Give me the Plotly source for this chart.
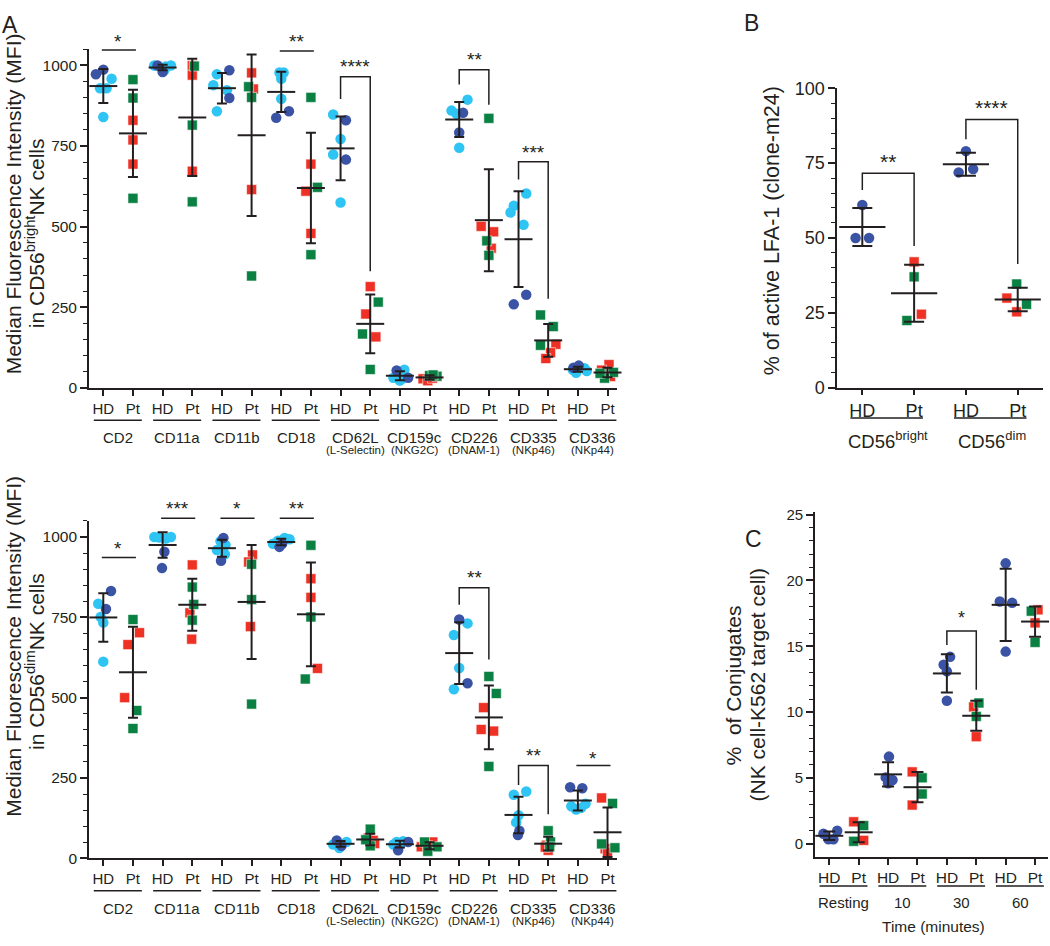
import numpy as np
import plotly.graph_objects as go

W, H = 1050, 946
INK = "#231F20"
FONT = "Liberation Sans, Arial, Helvetica, sans-serif"
DARK = "#3A53A4"
LIGHT = "#2EC4F3"
RED = "#EE3124"
GREEN = "#0B8043"

# ---------------- DATA ----------------
markers = ["CD2", "CD11a", "CD11b", "CD18", "CD62L", "CD159c", "CD226", "CD335", "CD336"]
marker_sub = ["", "", "", "", "(L-Selectin)", "(NKG2C)", "(DNAM-1)", "(NKp46)", "(NKp44)"]
donor_labels = ["HD", "Pt"]

# MFI in CD56bright NK cells
bright_hd_dark = [[973, 987], [1000, 980], [985, 899], [858, 838], [830, 708], [54, 31], [853, 792], [289, 259], [69, 62]]
bright_hd_light = [[959, 929, 929, 840], [1000, 997, 1000, 985], [973, 939, 923, 858], [978, 978, 959, 897],
                   [848, 772, 724, 575], [56, 31, 23, 30], [894, 860, 850, 745], [603, 565, 544, 506], [56, 47, 61, 52]]
bright_pt_red = [[830, 769, 694], [1000, 970, 672], [977, 927, 615], [694, 610, 479], [314, 229, 158],
                 [28, 22, 30], [501, 484, 433], [135, 109, 91], [72, 55, 35]]
bright_pt_green = [[956, 899, 588], [998, 815, 577], [934, 901, 347], [901, 622, 413], [266, 167, 57],
                   [38, 36, 40], [836, 456, 411], [226, 190, 132], [48, 30, 45]]

# MFI in CD56dim NK cells
dim_hd_dark = [[832, 776], [954, 903], [997, 926], [969, 979], [56, 39], [51, 25], [743, 545], [86, 73], [221, 218]]
dim_hd_light = [[792, 751, 734, 612], [1000, 998, 995, 1000], [987, 959, 946, 975], [979, 988, 993, 997],
                [51, 51, 43, 32], [43, 53, 41, 51], [731, 695, 592, 526], [208, 198, 134, 112], [162, 152, 157, 170]]
dim_pt_red = [[702, 665, 500], [913, 764, 682], [944, 922, 721], [870, 812, 591], [63, 56, 46],
              [36, 51, 39], [469, 401, 396], [41, 25, 35], [188, 30, 20]]
dim_pt_green = [[743, 460, 404], [844, 790, 741], [915, 805, 480], [974, 751, 558], [91, 39, 58],
                [51, 36, 22], [566, 513, 286], [86, 51, 36], [171, 33, 45]]

# % active LFA-1
lfa_groups = ["CD56<sup>bright</sup>", "CD56<sup>dim</sup>"]
lfa_hd = [[61, 50, 50], [79, 71.9, 73]]
lfa_pt_red = [[42, 24.5], [29.9, 25.3]]
lfa_pt_green = [[37, 22.4], [34.6, 27.8]]

# % conjugates
conj_groups = ["Resting", "10", "30", "60"]
conj_hd = [[0.77, 1.0, 0.35, 0.35], [6.63, 5.05, 4.85, 4.6], [14.2, 13.6, 13.1, 10.87], [21.3, 18.4, 18.3, 14.6]]
conj_pt_red = [[1.68, 0.27], [5.47, 2.95], [10.4, 8.14], [17.77, 16.78]]
conj_pt_green = [[1.39, 0.2], [5.02, 3.79], [10.7, 9.68], [17.67, 15.3]]

# ---------------- POINT SCATTER (horizontal jitter, slot units) ----------------
bright_hd_dark_jit = [[-0.25, 0], [-0.17, 0], [0.25, 0.25], [0.26, -0.17], [0.18, 0.18], [-0.11, 0.28], [0.13, 0], [0.26, -0.16], [0.03, -0.15]]
bright_hd_light_jit = [[0.28, -0.11, 0.11, 0], [-0.28, 0.11, 0.28, 0.06], [-0.17, -0.29, 0.17, -0.17], [-0.06, 0.08, 0, 0],
                       [-0.25, 0, -0.25, 0], [0.15, -0.22, 0, 0.1], [0.28, -0.26, -0.09, 0], [0.26, -0.16, -0.27, 0.17], [-0.17, -0.06, 0.22, 0.3]]
bright_pt_red_jit = [[0, 0, 0], [0, 0, 0], [0, 0.06, 0], [0, -0.17, 0], [0, -0.15, 0.19], [-0.22, -0.06, 0.1],
                     [-0.26, 0.16, 0.08], [0.26, 0.08, -0.08], [0.05, -0.2, 0.1]]
bright_pt_green_jit = [[0, 0, 0], [0.07, 0, 0], [-0.1, 0, 0], [0, 0.22, 0], [0.27, -0.26, 0], [0, 0.25, 0.12],
                       [0, -0.07, 0], [-0.26, 0.17, -0.26], [0.2, -0.1, -0.25]]
dim_hd_dark_jit = [[0.26, 0.09], [0.06, -0.02], [0.05, -0.03], [-0.06, 0.03], [-0.13, 0.03], [0.28, -0.06], [0, 0.28], [0.03, -0.02], [-0.26, 0.15]]
dim_hd_light_jit = [[-0.17, -0.09, 0, 0], [-0.28, -0.11, 0.11, 0.28], [-0.05, -0.17, 0.1, 0.12], [-0.28, -0.11, 0.28, 0.11],
                    [-0.13, 0.2, -0.25, -0.04], [-0.22, 0.11, 0, -0.11], [0.28, -0.18, 0, -0.18], [0.26, -0.16, 0, -0.08], [-0.22, -0.06, 0.11, 0.26]]
dim_pt_red_jit = [[0.22, -0.17, -0.28], [0, -0.08, -0.02], [0.03, -0.1, -0.04], [0, 0, 0.22], [-0.07, 0.1, 0.15],
                  [-0.28, 0.11, -0.06], [-0.18, -0.26, 0.16], [-0.06, 0, -0.1], [-0.2, -0.08, 0]]
dim_pt_green_jit = [[0, 0.13, 0], [0, 0.05, 0], [0, 0, 0], [0, 0, -0.19], [0, 0, -0.15], [-0.17, 0.25, -0.06],
                    [0, 0.25, 0], [0, 0.08, 0.05], [0.17, 0.25, -0.2]]
lfa_hd_jit = [[0, -0.13, 0.13], [0, -0.14, 0.14]]
lfa_pt_red_jit = [[0, 0.14], [-0.21, -0.02]]
lfa_pt_green_jit = [[0, -0.14], [-0.02, 0.17]]
conj_hd_jit = [[-0.2, 0.27, -0.03, 0.14], [0.03, -0.08, 0.15, 0], [0.11, -0.11, 0, 0], [0, -0.2, 0.22, 0]]
conj_pt_red_jit = [[-0.17, 0.17], [-0.18, -0.18], [-0.09, 0], [0.1, 0]]
conj_pt_green_jit = [[0.17, -0.17], [0.16, 0.16], [0.09, 0], [-0.13, 0]]

# ---------------- PANEL GEOMETRY (pixels of a 1050x946 page) ----------------
panels = {
    "Atop": dict(xa="x", ya="y", xpx=(89, 617), ypx=(40.2, 386), xr=(-0.482, 17.32), yr=(0, 1050)),
    "Abot": dict(xa="x2", ya="y2", xpx=(89, 617), ypx=(521.9, 866.7), xr=(-0.482, 17.32), yr=(0, 1050)),
    "B": dict(xa="x3", ya="y3", xpx=(837.3, 1043), ypx=(80, 385.7), xr=(-0.483, 3.488), yr=(0, 100)),
    "C": dict(xa="x4", ya="y4", xpx=(815, 1048), ypx=(512.8, 865), xr=(-0.486, 7.44), yr=(-0.97, 25.2)),
}


def py(pix):
    return 1 - pix / H


def yp(p, v):
    ytop, ybot = p["ypx"]
    r0, r1 = p["yr"]
    return py(ybot - (v - r0) / (r1 - r0) * (ybot - ytop))


fig = go.Figure()


def add_points(p, vals, jits, offset, color, symbol, size, edge):
    xs, ys = [], []
    for g, (vv, jj) in enumerate(zip(vals, jits)):
        for v, j in zip(vv, jj):
            xs.append(2 * g + offset + j)
            ys.append(v)
    fig.add_trace(go.Scatter(
        x=xs, y=ys, mode="markers", xaxis=p["xa"], yaxis=p["ya"], cliponaxis=False,
        marker=dict(symbol=symbol, size=size, color=color, line=dict(width=edge, color="rgba(255,255,255,0.7)")),
        hoverinfo="skip", showlegend=False))


def add_mean_sd(p, groups, offset, mw, cw):
    xs, ms, sds = [], [], []
    for g, vv in enumerate(groups):
        a = np.array(vv, dtype=float)
        xs.append(2 * g + offset)
        ms.append(a.mean())
        sds.append(a.std(ddof=1))
    fig.add_trace(go.Scatter(
        x=xs, y=ms, mode="markers", xaxis=p["xa"], yaxis=p["ya"], cliponaxis=False,
        marker=dict(symbol="line-ew", size=mw, color=INK, line=dict(width=2, color=INK)),
        error_y=dict(type="data", array=sds, visible=True, width=cw, thickness=2, color=INK),
        hoverinfo="skip", showlegend=False))


def merge(a, b):
    return [list(x) + list(y) for x, y in zip(a, b)]


# Panel A top
P = panels["Atop"]
add_points(P, bright_hd_light, bright_hd_light_jit, 0, LIGHT, "circle", 10.5, 0)
add_points(P, bright_hd_dark, bright_hd_dark_jit, 0, DARK, "circle", 10.5, 0)
add_points(P, bright_pt_red, bright_pt_red_jit, 1, RED, "square", 10, 0.8)
add_points(P, bright_pt_green, bright_pt_green_jit, 1, GREEN, "square", 10, 0.8)
add_mean_sd(P, merge(bright_hd_dark, bright_hd_light), 0, 20, 5)
add_mean_sd(P, merge(bright_pt_red, bright_pt_green), 1, 20, 5)

# Panel A bottom
P = panels["Abot"]
add_points(P, dim_hd_light, dim_hd_light_jit, 0, LIGHT, "circle", 10.5, 0)
add_points(P, dim_hd_dark, dim_hd_dark_jit, 0, DARK, "circle", 10.5, 0)
add_points(P, dim_pt_red, dim_pt_red_jit, 1, RED, "square", 10, 0.8)
add_points(P, dim_pt_green, dim_pt_green_jit, 1, GREEN, "square", 10, 0.8)
add_mean_sd(P, merge(dim_hd_dark, dim_hd_light), 0, 20, 5)
add_mean_sd(P, merge(dim_pt_red, dim_pt_green), 1, 20, 5)

# Panel B
P = panels["B"]
add_points(P, lfa_hd, lfa_hd_jit, 0, DARK, "circle", 10.5, 0)
add_points(P, lfa_pt_red, lfa_pt_red_jit, 1, RED, "square", 10, 0.8)
add_points(P, lfa_pt_green, lfa_pt_green_jit, 1, GREEN, "square", 10, 0.8)
add_mean_sd(P, lfa_hd, 0, 33, 10)
add_mean_sd(P, merge(lfa_pt_red, lfa_pt_green), 1, 33, 10)

# Panel C
P = panels["C"]
add_points(P, conj_hd, conj_hd_jit, 0, DARK, "circle", 10.5, 0)
add_points(P, conj_pt_red, conj_pt_red_jit, 1, RED, "square", 10, 0.8)
add_points(P, conj_pt_green, conj_pt_green_jit, 1, GREEN, "square", 10, 0.8)
add_mean_sd(P, conj_hd, 0, 20, 6)
add_mean_sd(P, merge(conj_pt_red, conj_pt_green), 1, 20, 6)

# ---------------- AXES ----------------
layout = dict(
    autosize=True, margin=dict(l=0, r=0, t=0, b=0, pad=0),
    paper_bgcolor="white", plot_bgcolor="white", showlegend=False,
    font=dict(family=FONT, color=INK),
)

axis_specs = {
    "Atop": dict(ngroups=9, tick_font=15, ytick_font=15.5, yticks=[0, 250, 500, 750, 1000], minor=50),
    "Abot": dict(ngroups=9, tick_font=15, ytick_font=15.5, yticks=[0, 250, 500, 750, 1000], minor=50),
    "B": dict(ngroups=2, tick_font=18, ytick_font=18, yticks=[0, 25, 50, 75, 100], minor=5),
    "C": dict(ngroups=4, tick_font=15.5, ytick_font=15, yticks=[0, 5, 10, 15, 20, 25], minor=1),
}

for key, p in panels.items():
    s = axis_specs[key]
    xk = "xaxis" + p["xa"][1:]
    yk = "yaxis" + p["ya"][1:]
    n = s["ngroups"]
    layout[xk] = dict(
        domain=[p["xpx"][0] / W, p["xpx"][1] / W], range=list(p["xr"]), anchor=p["ya"],
        tickmode="array", tickvals=list(range(2 * n)), ticktext=donor_labels * n,
        showline=True, linewidth=1.8, linecolor=INK, ticks="outside", ticklen=6, tickwidth=1.6,
        tickcolor=INK, showgrid=False, zeroline=False, tickfont=dict(size=s["tick_font"], color=INK),
        fixedrange=True,
    )
    layout[yk] = dict(
        domain=[py(p["ypx"][1]), py(p["ypx"][0])], range=list(p["yr"]), anchor=p["xa"],
        tickmode="array", tickvals=s["yticks"], ticktext=[str(v) for v in s["yticks"]],
        showline=True, linewidth=1.8, linecolor=INK, ticks="outside", ticklen=7, tickwidth=1.6,
        tickcolor=INK, showgrid=False, zeroline=False, tickfont=dict(size=s["ytick_font"], color=INK),
        minor=dict(tickmode="linear", tick0=0, dtick=s["minor"], ticks="outside", ticklen=4,
                   tickwidth=1.3, tickcolor=INK, showgrid=False),
        fixedrange=True,
    )

shapes = []
annotations = []


def line_shape(p, x0, x1, ypaper, w=1.5):
    shapes.append(dict(type="line", xref=p["xa"], yref="paper", x0=x0, x1=x1, y0=ypaper, y1=ypaper,
                       line=dict(color=INK, width=w)))


def text_ann(xref, x, y, text, size, **kw):
    d = dict(xref=xref, yref="paper", x=x, y=y, text=text, showarrow=False,
             font=dict(size=size, color=INK, family=FONT), xanchor="center", yanchor="middle")
    d.update(kw)
    annotations.append(d)


# group underline + labels
def group_labels(p, labels, subs, under_off, lab_off, sub_off, lab_size, sub_size, x0off, x1off):
    ybot = p["ypx"][1]
    for g, lab in enumerate(labels):
        line_shape(p, 2 * g + x0off, 2 * g + 1 + x1off, py(ybot + under_off), 1.5)
        text_ann(p["xa"], 2 * g + 0.5, py(ybot + lab_off), lab, lab_size)
        if subs and subs[g]:
            text_ann(p["xa"], 2 * g + 0.5, py(ybot + sub_off), subs[g], sub_size)


group_labels(panels["Atop"], markers, marker_sub, 33, 51, 64, 15, 11.5, -0.32, 0.3)
group_labels(panels["Abot"], markers, marker_sub, 33, 51, 64, 15, 11.5, -0.32, 0.3)
group_labels(panels["B"], lfa_groups, None, 31, 54, 0, 18.5, 0, -0.23, 0.17)
group_labels(panels["C"], conj_groups, None, 30, 47, 0, 15, 0, -0.33, 0.3)

# significance marks
A_top_sig = [
    dict(g=0, kind="bar", y=1048, text="*", ty=1090),
    dict(g=3, kind="bar", y=1045, text="**", ty=1090),
    dict(g=4, kind="bracket", top=965, left=896, right=362, text="****", ty=1012),
    dict(g=6, kind="bracket", top=987, left=941, right=878, text="**", ty=1033),
    dict(g=7, kind="bracket", top=701, left=646, right=276, text="***", ty=747),
]
A_bot_sig = [
    dict(g=0, kind="bar", y=936, text="*", ty=979),
    dict(g=1, kind="bar", y=1058, text="***", ty=1103),
    dict(g=2, kind="bar", y=1058, text="*", ty=1103),
    dict(g=3, kind="bar", y=1058, text="**", ty=1103),
    dict(g=6, kind="bracket", top=842, left=789, right=619, text="**", ty=888),
    dict(g=7, kind="bracket", top=289, left=228, right=137, text="**", ty=337),
    dict(g=8, kind="bar", y=289, text="*", ty=325),
]
B_sig = [
    dict(g=0, kind="bracket", top=71.6, left=66, right=47.3, text="**", ty=77.3),
    dict(g=1, kind="bracket", top=89.6, left=83, right=41.3, text="****", ty=95.3),
]
C_sig = [dict(g=2, kind="bracket", top=16.16, left=15.1, right=11.7, text="*", ty=17.5)]


def add_sig(p, sigs, star_size):
    for s in sigs:
        g = s["g"]
        if s["kind"] == "bar":
            line_shape(p, 2 * g - 0.05, 2 * g + 1.1, yp(p, s["y"]), 1.5)
        else:
            xl, xr = 2 * g, 2 * g + 1
            path = "M {a},{b} L {a},{c} L {d},{c} L {d},{e}".format(
                a=xl, b=yp(p, s["left"]), c=yp(p, s["top"]), d=xr, e=yp(p, s["right"]))
            shapes.append(dict(type="path", xref=p["xa"], yref="paper", path=path,
                               line=dict(color=INK, width=1.5)))
        # asterisks sit high in the em box: shift the box down a little
        text_ann(p["xa"], 2 * g + 0.5, yp(p, s["ty"]) - 0.27 * star_size / H, s["text"], star_size)


add_sig(panels["Atop"], A_top_sig, 19)
add_sig(panels["Abot"], A_bot_sig, 19)
add_sig(panels["B"], B_sig, 21)
add_sig(panels["C"], C_sig, 18)

# axis titles
text_ann("paper", 13.5 / W, py(198), "Median Fluorescence Intensity (MFI)", 21, textangle=-90)
text_ann("paper", 35 / W, py(228), "in CD56<sup>bright</sup>NK cells", 21, textangle=-90)
text_ann("paper", 13.5 / W, py(650), "Median Fluorescence Intensity (MFI)", 21, textangle=-90)
text_ann("paper", 35 / W, py(666), "in CD56<sup>dim</sup>NK cells", 21, textangle=-90)
text_ann("paper", 772 / W, py(226), "% of active LFA-1 (clone-m24)", 21.5, textangle=-90)
text_ann("paper", 733 / W, py(690), "%\u00a0 of Conjugates", 21, textangle=-90)
text_ann("paper", 757 / W, py(690), "(NK cell-K562 target cell)", 21, textangle=-90)
text_ann("paper", 933 / W, py(936.7), "Time (minutes)", 15.5)

# panel letters
text_ann("paper", 10 / W, py(15), "A", 23)
text_ann("paper", 751 / W, py(13), "B", 23)
text_ann("paper", 753 / W, py(540), "C", 23)

layout["shapes"] = shapes
layout["annotations"] = annotations
fig.update_layout(**layout)

# the graph div is pinned to the viewport (fixed, full window) so the page is exactly one window
fig.write_html(
    "out.html",
    default_width="100vw",
    default_height="100vh; position:fixed; top:0; left:0; margin:0",
    config={"displayModeBar": False, "responsive": True},
)
